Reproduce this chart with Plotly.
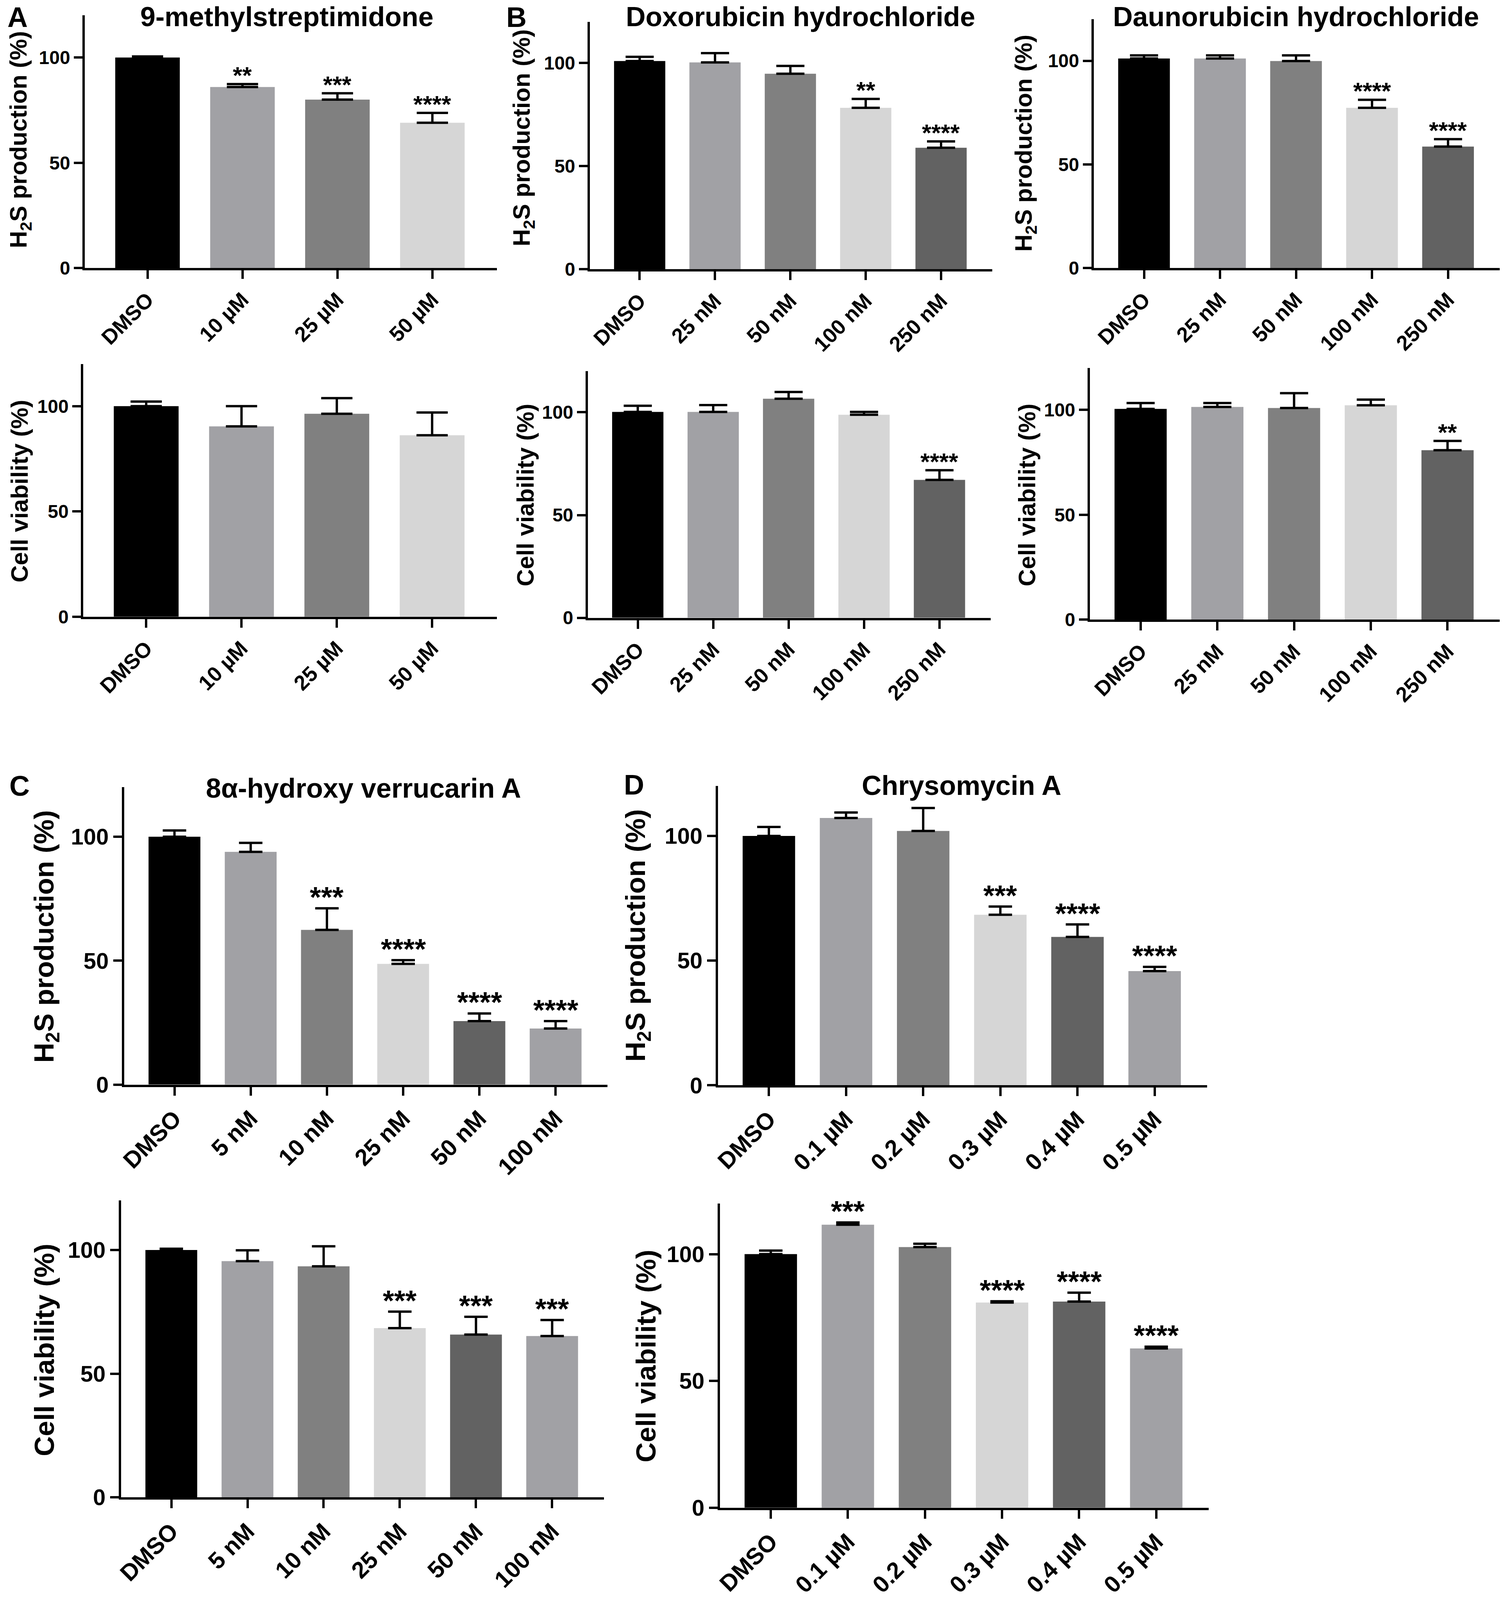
import plotly.graph_objects as go

# reference canvas used for laying out domains (fractions of the page)
W, H = 3850, 4435
FONT = "Liberation Sans, Arial, Helvetica, sans-serif"

BLACK = "#000000"
G1 = "#a1a1a5"
G2 = "#808080"
LIGHT = "#d6d6d6"
DARK = "#626262"

# ---------------- data ----------------
a_labels = ["DMSO", "10 µM", "25 µM", "50 µM"]
a_h2s = [100.0, 86.0, 80.0, 69.0]
a_h2s_err = [0.5, 1.4, 3.0, 4.7]
a_h2s_sig = ["", "**", "***", "****"]
a_via = [100.0, 90.4, 96.4, 86.2]
a_via_err = [2.2, 9.6, 7.4, 10.8]
a_via_sig = ["", "", "", ""]

b_labels = ["DMSO", "25 nM", "50 nM", "100 nM", "250 nM"]
dox_h2s = [101.0, 100.3, 94.8, 78.3, 58.9]
dox_h2s_err = [2.0, 4.5, 3.8, 4.3, 3.1]
dox_h2s_sig = ["", "", "", "**", "****"]
dox_via = [100.2, 100.2, 106.6, 98.8, 67.1]
dox_via_err = [3.0, 3.3, 3.3, 1.4, 4.7]
dox_via_sig = ["", "", "", "", "****"]

dau_h2s = [101.1, 101.1, 99.9, 77.3, 58.6]
dau_h2s_err = [1.5, 1.5, 2.7, 3.9, 3.6]
dau_h2s_sig = ["", "", "", "****", "****"]
dau_via = [100.5, 101.4, 100.9, 102.2, 80.8]
dau_via_err = [2.8, 1.9, 7.1, 2.7, 4.4]
dau_via_sig = ["", "", "", "", "**"]

c_labels = ["DMSO", "5 nM", "10 nM", "25 nM", "50 nM", "100 nM"]
c_h2s = [100.0, 93.9, 62.4, 48.7, 25.6, 22.6]
c_h2s_err = [2.5, 3.6, 8.7, 1.5, 3.1, 3.0]
c_h2s_sig = ["", "", "***", "****", "****", "****"]
c_via = [100.0, 95.5, 93.4, 68.4, 65.8, 65.2]
c_via_err = [0.5, 4.4, 8.1, 6.7, 7.2, 6.5]
c_via_sig = ["", "", "", "***", "***", "***"]

d_labels = ["DMSO", "0.1 µM", "0.2 µM", "0.3 µM", "0.4 µM", "0.5 µM"]
d_h2s = [100.0, 107.2, 102.0, 68.4, 59.5, 45.8]
d_h2s_err = [3.6, 2.2, 9.2, 3.3, 5.0, 1.7]
d_h2s_sig = ["", "", "", "***", "****", "****"]
d_via = [100.0, 111.6, 102.8, 80.9, 81.3, 62.8]
d_via_err = [1.4, 0.9, 1.3, 0.5, 3.5, 0.7]
d_via_sig = ["", "***", "", "****", "****", "****"]

y_ticks = [0, 50, 100]
y_max = 120

H2S_LABEL = "H<sub>2</sub>S production (%)"
VIA_LABEL = "Cell viability (%)"

col4 = [BLACK, G1, G2, LIGHT]
col5 = [BLACK, G1, G2, LIGHT, DARK]
col6 = [BLACK, G1, G2, LIGHT, DARK, G1]

SMALL = dict(tick=48, cat=54, ylab=61, star=62, cap=40, yshift=-14, lw=6)
BIG = dict(tick=58, cat=60, ylab=71, star=74, cap=30, yshift=-15, lw=6)

# box = (x_left, x_right, y_top, y_zero) in reference pixels; lab = centre of y-title
panels = [
    dict(labels=a_labels, v=a_h2s, e=a_h2s_err, s=a_h2s_sig, c=col4, yl=H2S_LABEL,
         box=(203, 1262, 43, 749), lab=(37, 390), st=SMALL),
    dict(labels=b_labels, v=dox_h2s, e=dox_h2s_err, s=dox_h2s_sig, c=col5, yl=H2S_LABEL,
         box=(1501, 2535, 61, 752), lab=(1330, 385), st=dict(SMALL, cap=36)),
    dict(labels=b_labels, v=dau_h2s, e=dau_h2s_err, s=dau_h2s_sig, c=col5, yl=H2S_LABEL,
         box=(2796, 3839, 54, 749), lab=(2620, 400), st=dict(SMALL, cap=36)),
    dict(labels=a_labels, v=a_via, e=a_via_err, s=a_via_sig, c=col4, yl=VIA_LABEL,
         box=(199, 1262, 1017, 1723), lab=(35, 1372), st=SMALL),
    dict(labels=b_labels, v=dox_via, e=dox_via_err, s=dox_via_sig, c=col5, yl=VIA_LABEL,
         box=(1496, 2531, 1037, 1726), lab=(1336, 1383), st=dict(SMALL, cap=36)),
    dict(labels=b_labels, v=dau_via, e=dau_via_err, s=dau_via_sig, c=col5, yl=VIA_LABEL,
         box=(2786, 3839, 1028, 1731), lab=(2625, 1383), st=dict(SMALL, cap=36)),
    dict(labels=c_labels, v=c_h2s, e=c_h2s_err, s=c_h2s_sig, c=col6, yl=H2S_LABEL,
         box=(304, 1546, 2199, 3030), lab=(104, 2616), st=BIG),
    dict(labels=d_labels, v=d_h2s, e=d_h2s_err, s=d_h2s_sig, c=col6, yl=H2S_LABEL,
         box=(1830, 3087, 2196, 3032), lab=(1624, 2613), st=BIG),
    dict(labels=c_labels, v=c_via, e=c_via_err, s=c_via_sig, c=col6, yl=VIA_LABEL,
         box=(296, 1537, 3354, 4183), lab=(99, 3772), st=BIG),
    dict(labels=d_labels, v=d_via, e=d_via_err, s=d_via_sig, c=col6, yl=VIA_LABEL,
         box=(1835, 3091, 3362, 4212), lab=(1644, 3789), st=BIG),
]

# (text, x centre, y top of text box) in reference pixels
titles = [
    ("9-methylstreptimidone", 722, 2, 70),
    ("Doxorubicin hydrochloride", 2042, 2, 70),
    ("Daunorubicin hydrochloride", 3315, 2, 70),
    ("8\u03b1-hydroxy verrucarin A", 919, 2158, 70),
    ("Chrysomycin A", 2456, 2150, 70),
]
letters = [("A", 30, 2), ("B", 1312, 2), ("C", 35, 2150), ("D", 1614, 2147)]

fig = go.Figure()
annotations = []
layout = dict(
    autosize=True, margin=dict(l=0, r=0, t=0, b=0, pad=0),
    paper_bgcolor="white", plot_bgcolor="white", showlegend=False,
    font=dict(family=FONT, color="black", size=48, weight="bold"),
)

for i, p in enumerate(panels, start=1):
    n = len(p["labels"])
    st = p["st"]
    x0, x1, yt, y0 = p["box"]
    xs = list(range(n))
    fig.add_trace(go.Bar(
        x=xs, y=p["v"], width=0.68, marker=dict(color=p["c"], line=dict(width=0)),
        error_y=dict(type="data", symmetric=False, array=p["e"], arrayminus=[0] * n,
                     color="black", thickness=st["lw"], width=st["cap"]),
        xaxis=f"x{i}", yaxis=f"y{i}", hoverinfo="skip",
    ))
    axis_common = dict(showline=True, linecolor="black", linewidth=st["lw"],
                       ticks="outside", ticklen=22, tickwidth=st["lw"], tickcolor="black",
                       showgrid=False, zeroline=False, fixedrange=True)
    layout[f"xaxis{i}"] = dict(
        axis_common, domain=[x0 / W, x1 / W], anchor=f"y{i}",
        range=[-0.66, n - 1 + 0.68], tickmode="array", tickvals=xs, ticktext=p["labels"],
        tickangle=-45, tickfont=dict(family=FONT, size=st["cat"], weight="bold", color="black"),
    )
    layout[f"yaxis{i}"] = dict(
        axis_common, domain=[1 - y0 / H, 1 - yt / H], anchor=f"x{i}",
        range=[0, y_max], tickmode="array", tickvals=y_ticks,
        tickfont=dict(family=FONT, size=st["tick"], weight="bold", color="black"),
    )
    for j, (v, e, s) in enumerate(zip(p["v"], p["e"], p["s"])):
        if s:
            annotations.append(dict(
                x=j, y=v + e, xref=f"x{i}", yref=f"y{i}", text=s, showarrow=False,
                yanchor="bottom", xanchor="center", yshift=st["yshift"],
                font=dict(family=FONT, size=st["star"], weight="bold", color="black"),
            ))
    lx, ly = p["lab"]
    annotations.append(dict(
        x=lx / W, y=1 - ly / H, xref="paper", yref="paper", text=p["yl"], textangle=-90,
        showarrow=False, xanchor="center", yanchor="middle",
        font=dict(family=FONT, size=st["ylab"], weight="bold", color="black"),
    ))

for t, x, y, fs in titles:
    annotations.append(dict(
        x=x / W, y=1 - y / H, xref="paper", yref="paper", text=t, showarrow=False,
        xanchor="center", yanchor="top",
        font=dict(family=FONT, size=fs, weight="bold", color="black"),
    ))
for t, x, y in letters:
    annotations.append(dict(
        x=x / W, y=1 - y / H, xref="paper", yref="paper", text=t, showarrow=False,
        xanchor="center", yanchor="top",
        font=dict(family=FONT, size=72, weight="bold", color="black"),
    ))

layout["annotations"] = annotations
fig.update_layout(**layout)

post = (
    "document.documentElement.style.margin='0';"
    "document.documentElement.style.overflow='hidden';"
    "document.body.style.margin='0';"
    "document.body.style.overflow='hidden';"
    "var gd=document.getElementById('{plot_id}');"
    "gd.style.width='100vw';gd.style.height='100vh';"
    "Plotly.Plots.resize(gd);"
)
fig.write_html(
    "out.html",
    config={"responsive": True, "displayModeBar": False},
    default_width="100vw",
    default_height="100vh",
    post_script=post,
)
